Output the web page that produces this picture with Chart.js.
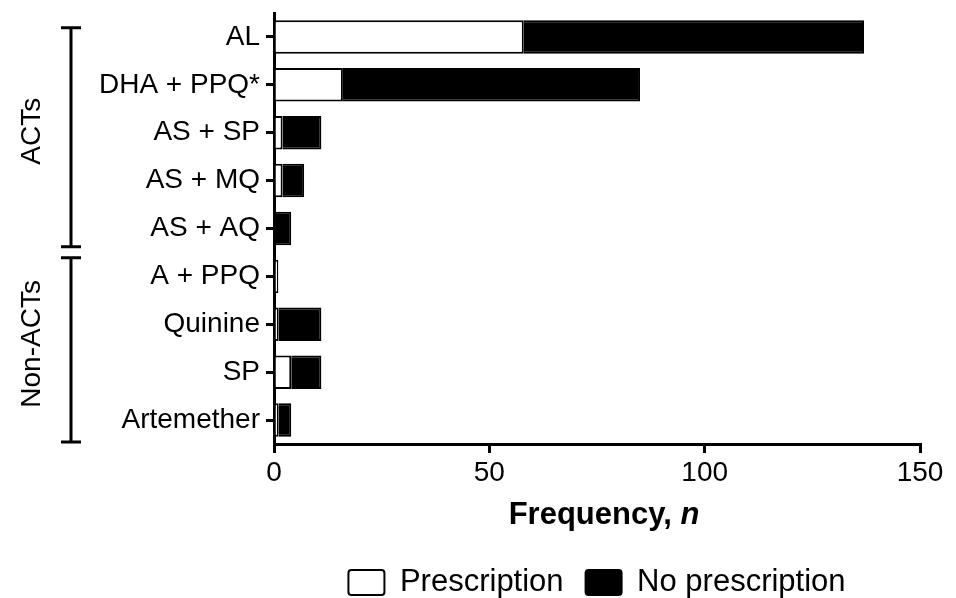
<!DOCTYPE html>
<html>
<head>
<meta charset="utf-8">
<script src="https://cdn.jsdelivr.net/npm/chart.js@4.4.1/dist/chart.umd.min.js"></script>
<style>
  html, body { margin: 0; padding: 0; background: #fff; }
  #wrap { width: 956px; height: 598px; position: relative; }
</style>
</head>
<body>
<div id="wrap"><canvas id="grafico"></canvas></div>
<script>
const categories = ["AL", "DHA + PPQ*", "AS + SP", "AS + MQ", "AS + AQ", "A + PPQ", "Quinine", "SP", "Artemether"];
const prescription = [58, 16, 2, 2, 0, 1, 1, 4, 1];
const noPrescription = [79, 69, 9, 5, 4, 0, 10, 7, 3];
const groups = ["ACTs", "Non-ACTs"];
const groupStart = [0, 5];
const groupEnd = [4, 8];
const xMax = 150;
const xStep = 50;

const FONT = "'Liberation Sans', Arial, Helvetica, sans-serif";

// brackets + group names on the left, axis title with italic n
const extras = {
  id: "extras",
  afterDraw(chart) {
    const ctx = chart.ctx;
    const y = chart.scales.y;
    const a = chart.chartArea;
    const band = y.getPixelForValue(1) - y.getPixelForValue(0);
    const topFrac = [0.19, 0.39];
    const botFrac = [0.38, 0.46];
    ctx.save();
    ctx.strokeStyle = "#000";
    ctx.fillStyle = "#000";
    ctx.lineWidth = 3;

    ctx.font = "28px " + FONT;
    ctx.textAlign = "center";
    ctx.textBaseline = "middle";
    groups.forEach((g, i) => {
      const top = y.getPixelForValue(groupStart[i]) - band * topFrac[i];
      const bot = y.getPixelForValue(groupEnd[i]) + band * botFrac[i];
      ctx.beginPath();
      ctx.moveTo(71, top); ctx.lineTo(71, bot);
      ctx.moveTo(61, top); ctx.lineTo(81, top);
      ctx.moveTo(61, bot); ctx.lineTo(81, bot);
      ctx.stroke();
      ctx.save();
      ctx.translate(32, (top + bot) / 2 - 6);
      ctx.rotate(-Math.PI / 2);
      ctx.fillText(g, 0, 0);
      ctx.restore();
    });

    // x axis title
    const t1 = "Frequency, ";
    const t2 = "n";
    const f1 = "bold 31px " + FONT;
    const f2 = "italic bold 31px " + FONT;
    ctx.font = f1;
    const w1 = ctx.measureText(t1).width;
    ctx.font = f2;
    const w2 = ctx.measureText(t2).width;
    const cx = (a.left + a.right) / 2 + 7;
    const ty = a.bottom + 71;
    ctx.textAlign = "left";
    ctx.font = f1;
    ctx.fillText(t1, cx - (w1 + w2) / 2, ty);
    ctx.font = f2;
    ctx.fillText(t2, cx - (w1 + w2) / 2 + w1, ty);
    ctx.restore();
  }
};

new Chart(document.getElementById("grafico"), {
  type: "bar",
  data: {
    labels: categories,
    datasets: [
      {
        label: "Prescription",
        data: prescription,
        backgroundColor: "#fff",
        borderColor: "#000",
        borderWidth: 2,
        barPercentage: 0.7,
        categoryPercentage: 1
      },
      {
        label: "No prescription",
        data: noPrescription,
        backgroundColor: "#000",
        borderColor: "#000",
        borderWidth: 2,
        barPercentage: 0.7,
        categoryPercentage: 1
      }
    ]
  },
  options: {
    indexAxis: "y",
    responsive: true,
    maintainAspectRatio: false,
    animation: false,
    layout: { padding: { top: 13, right: 36, left: 0, bottom: -10 } },
    scales: {
      x: {
        stacked: true,
        min: 0,
        max: xMax,
        ticks: { stepSize: xStep, color: "#000", font: { family: FONT, size: 28 }, padding: 3 },
        grid: { drawOnChartArea: false, drawTicks: true, tickLength: 9, color: "#000", lineWidth: 3 },
        border: { display: true, color: "#000", width: 3 },
        afterFit(scale) { scale.height = 101; }
      },
      y: {
        stacked: true,
        ticks: { color: "#000", font: { family: FONT, size: 28 }, padding: 6, autoSkip: false },
        grid: { drawOnChartArea: false, drawTicks: true, tickLength: 8, color: "#000", lineWidth: 3, offset: false },
        border: { display: true, color: "#000", width: 3 },
        afterFit(scale) {
          scale.width = 274;
          scale.paddingTop = 0;
          scale.paddingBottom = 0;
        }
      }
    },
    plugins: {
      tooltip: { enabled: false },
      legend: {
        position: "bottom",
        fullSize: false,
        labels: {
          color: "#000",
          font: { family: FONT, size: 31 },
          boxWidth: 36,
          boxHeight: 25,
          padding: 22,
          useBorderRadius: true,
          borderRadius: 3
        }
      }
    }
  },
  plugins: [extras]
});
</script>
</body>
</html>
